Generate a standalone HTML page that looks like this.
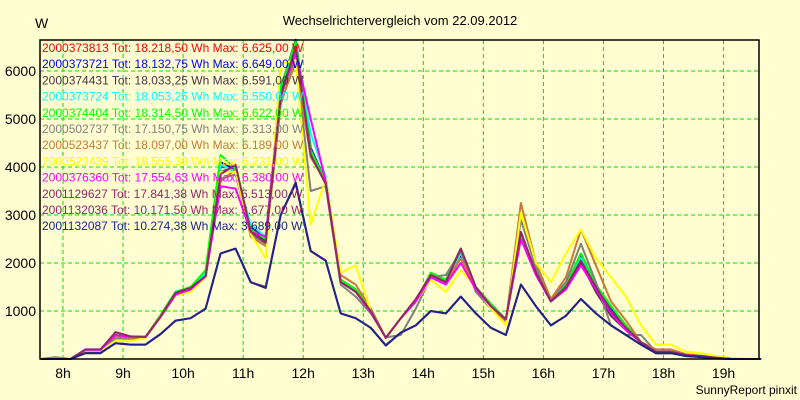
<!DOCTYPE html>
<html><head><meta charset="utf-8"><style>
body{margin:0;background:#ffffd2;}
svg{display:block;font-family:"Liberation Sans",sans-serif;}
</style></head><body>
<svg id="chart" width="800" height="400" viewBox="0 0 800 400">
<rect x="0" y="0" width="800" height="400" fill="#ffffd2"/>
<text x="400" y="25" text-anchor="middle" font-size="13" fill="#000">Wechselrichtervergleich vom 22.09.2012</text>
<text x="35" y="28" font-size="14" fill="#000">W</text>
<text x="797" y="394" text-anchor="end" font-size="12" fill="#000">SunnyReport pinxit</text>
<g id="grid"></g><g id="axes"></g><g id="series"></g><g id="legend"></g>
<rect x="40" y="40" width="719" height="319" fill="none" stroke="#000" stroke-width="1.5"/>
</svg>
<script>
const startHour = 7.625, stepHour = 0.25;
const yTicks = [1000,2000,3000,4000,5000,6000];
const xTicks = [8,9,10,11,12,13,14,15,16,17,18,19];
const names = ["2000373813","2000373721","2000374431","2000373724","2000374404","2000502737","2000523437","2000523439","2000376360","2001129627","2001132036","2001132087"];
const totals = ["18.218,50","18.132,75","18.033,25","18.053,25","18.314,50","17.150,75","18.097,00","18.555,38","17.554,63","17.841,38","10.171,50","10.274,38"];
const maxima = ["6.625,00","6.649,00","6.591,00","6.550,00","6.622,00","6.313,00","6.189,00","6.231,00","6.380,00","6.513,00","3.677,00","3.689,00"];
const colors = ["#ff0000","#0000ff","#4a3048","#00ffff","#00ff00","#808080","#c87a38","#ffff00","#ff00ff","#902868","#902868","#1e228c"];
const s0 = [0,0,0,190,190,540,460,460,900,1370,1480,1750,4000,3980,2700,2480,5600,6600,4350,3700,1650,1450,1000,440,850,1200,1750,1600,2100,1500,1100,830,2550,1800,1200,1500,2050,1500,1000,650,350,150,150,80,60,20,0,0,0];
const s1 = [0,0,0,190,190,530,460,460,900,1380,1480,1760,4100,3950,2750,2500,5650,6650,4400,3700,1650,1450,1000,440,850,1200,1750,1600,2150,1500,1100,830,2550,1800,1200,1500,2150,1550,1050,650,350,150,150,80,60,20,0,0,0];
const s2 = [0,0,0,190,190,520,460,460,880,1360,1470,1740,3900,4000,2700,2450,5500,6550,4250,3650,1600,1400,1000,440,850,1200,1750,1650,2300,1500,1100,830,2600,1800,1200,1450,2000,1400,900,600,350,150,150,80,60,20,0,0,0];
const s3 = [0,0,0,190,190,510,460,460,900,1400,1500,1780,4050,3900,2800,2550,5700,6500,4700,3800,1650,1450,1000,440,850,1200,1750,1600,2200,1500,1100,830,2500,1800,1200,1500,2100,1500,1000,650,350,150,150,80,60,20,0,0,0];
const s4 = [0,0,0,190,190,520,460,460,920,1400,1500,1850,4250,3950,2700,2500,5650,6620,4350,3700,1650,1450,1050,440,850,1200,1800,1650,2250,1500,1150,830,2600,1800,1250,1550,2200,1550,1100,700,350,150,150,80,60,20,0,0,0];
const s5 = [0,0,0,170,170,430,420,440,880,1330,1430,1700,3750,3850,2600,2400,5300,6300,3500,3600,1550,1300,950,450,500,1050,1700,1750,2250,1400,1050,800,2900,1900,1250,1600,2400,1600,700,500,500,150,150,80,60,20,0,0,0];
const s6 = [0,40,0,190,190,480,440,450,880,1330,1430,1700,3700,3950,2550,2350,5350,6180,4200,3700,1750,1550,1050,440,850,1200,1750,1600,2100,1500,1100,780,3250,2000,1250,1700,2700,1950,1200,800,350,200,200,100,70,30,0,0,0];
const s7 = [0,0,0,170,170,380,370,440,900,1320,1400,1700,3900,3900,2600,2100,6150,6230,2800,3750,1800,1950,1000,440,850,1200,1650,1400,1850,1500,1050,700,3050,2000,1600,2200,2700,2100,1700,1300,700,300,300,150,120,60,20,0,0];
const s8 = [0,0,0,190,190,500,460,460,880,1340,1450,1720,3600,3550,2650,2550,5500,6380,5000,3700,1600,1400,980,440,850,1200,1700,1550,2000,1450,1100,830,2500,1750,1200,1450,1950,1450,950,600,350,150,150,80,60,20,0,0,0];
const s9 = [0,0,0,200,200,560,470,460,890,1380,1480,1730,3850,4050,2650,2420,5450,6510,4250,3650,1600,1400,1000,440,850,1250,1750,1600,2300,1500,1100,830,2650,1800,1200,1500,2050,1500,1000,650,350,150,150,80,60,20,0,0,0];
const s10 = [0,0,0,130,130,330,300,300,520,800,850,1050,2200,2300,1600,1500,3000,3650,2250,2050,950,850,650,290,550,700,1000,950,1300,950,650,500,1550,1100,700,900,1250,950,700,500,300,120,120,70,60,30,0,0,0];
const s11 = [0,0,0,120,120,330,300,300,520,800,850,1050,2200,2300,1600,1480,3000,3680,2250,2050,950,850,650,280,550,700,1000,950,1300,950,650,500,1550,1100,700,900,1250,950,700,500,300,120,120,60,40,10,0,0,0];
const seriesList = [s0,s1,s2,s3,s4,s5,s6,s7,s8,s9,s10,s11];

const NS = "http://www.w3.org/2000/svg";
const X0 = 63, PXH = 60.05, Y0 = 359, PXW = 0.048;
function xScale(h){ return X0 + (h - 8) * PXH; }
function yScale(v){ return Y0 - v * PXW; }
const grid = document.getElementById("grid"), axes = document.getElementById("axes");
yTicks.forEach(v => {
  const l = document.createElementNS(NS, "line");
  
  
  l.setAttribute("x1", 40); l.setAttribute("x2", 759);
  l.setAttribute("y1", yScale(v)); l.setAttribute("y2", yScale(v));
  l.setAttribute("stroke", "#00e000"); l.setAttribute("stroke-dasharray", "4,3");
  grid.appendChild(l);
  const t = document.createElementNS(NS, "text");
  
  
  t.setAttribute("x", 36); t.setAttribute("y", yScale(v) + 5);
  t.setAttribute("text-anchor", "end"); t.setAttribute("font-size", "14");
  t.textContent = v; axes.appendChild(t);
});
xTicks.forEach(h => {
  const l = document.createElementNS(NS, "line");
  
  
  l.setAttribute("x1", xScale(h)); l.setAttribute("x2", xScale(h));
  l.setAttribute("y1", 40); l.setAttribute("y2", 359);
  l.setAttribute("stroke", "#00e000"); l.setAttribute("stroke-dasharray", "4,3");
  grid.appendChild(l);
  const t = document.createElementNS(NS, "text");
  
  
  t.setAttribute("x", xScale(h)); t.setAttribute("y", 378);
  t.setAttribute("text-anchor", "middle"); t.setAttribute("font-size", "14");
  t.textContent = h + "h"; axes.appendChild(t);
});
const sg = document.getElementById("series");
seriesList.forEach((arr, k) => {
  const pts = arr.map((v, i) => xScale(startHour + i * stepHour).toFixed(1) + "," + yScale(v).toFixed(1)).join(" ");
  const p = document.createElementNS(NS, "polyline");
  
  
  p.setAttribute("points", pts); p.setAttribute("fill", "none");
  p.setAttribute("stroke", colors[k]); p.setAttribute("stroke-width", "2");
  p.setAttribute("stroke-linejoin", "round");
  sg.appendChild(p);
});
const lg = document.getElementById("legend");
names.forEach((n, k) => {
  const t = document.createElementNS(NS, "text");
  
  
  t.setAttribute("x", 42); t.setAttribute("y", 52 + k * 16.2);
  t.setAttribute("font-size", "12"); t.setAttribute("fill", colors[k]);
  t.textContent = n + " Tot: " + totals[k] + " Wh Max: " + maxima[k] + " W";
  lg.appendChild(t);
});
</script>
</body></html>
